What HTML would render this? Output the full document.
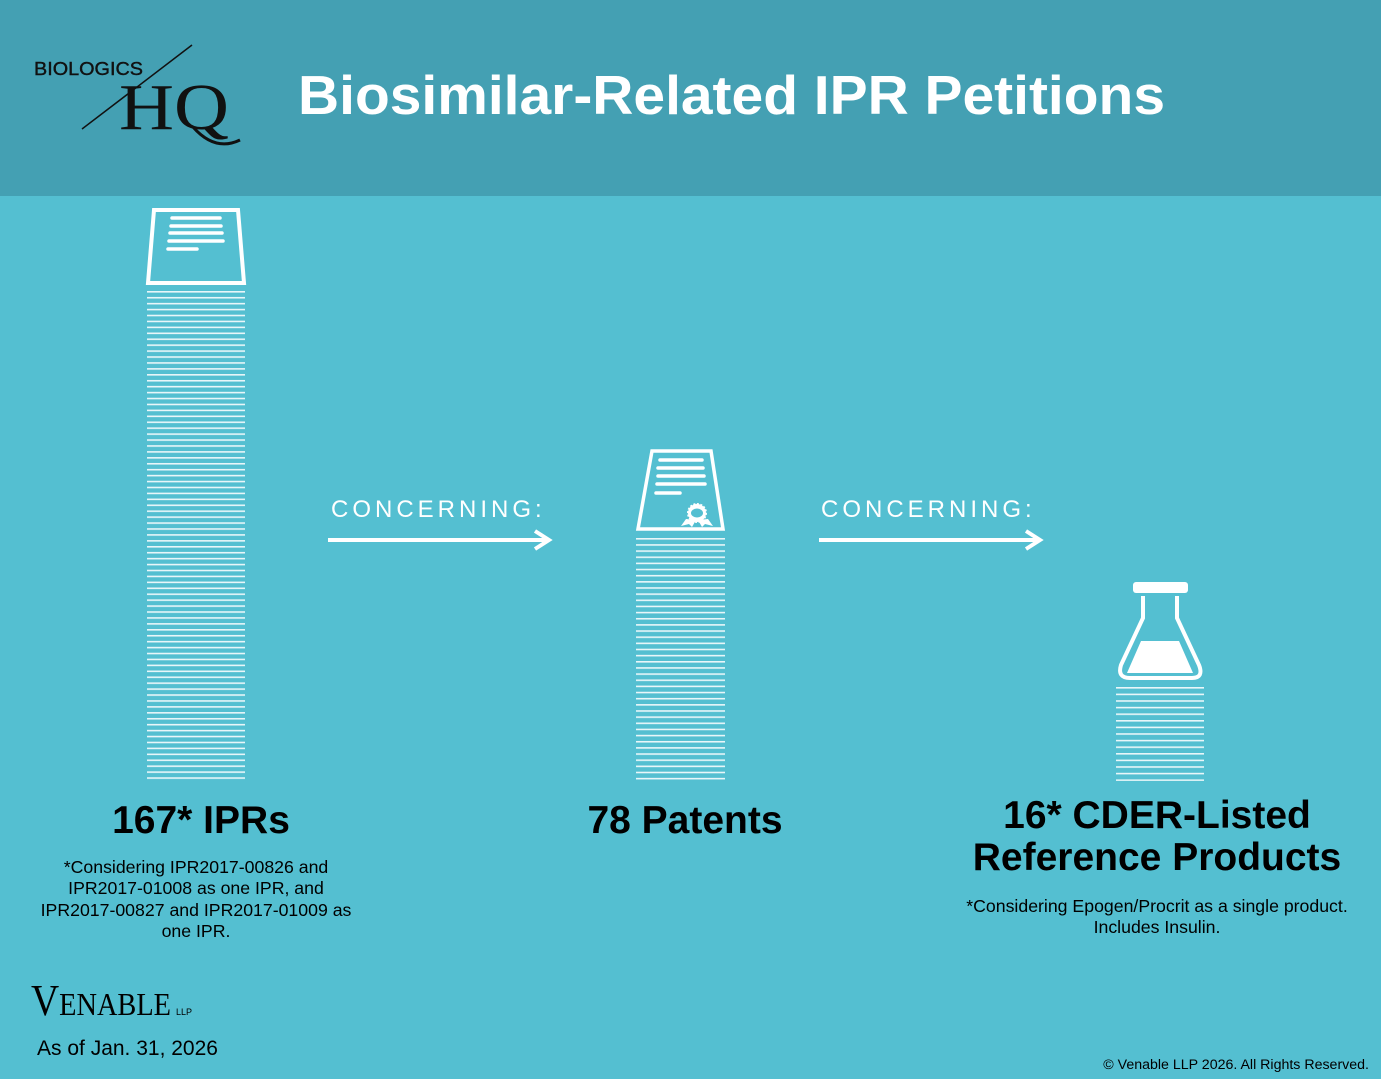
<!DOCTYPE html>
<html><head><meta charset="utf-8"><style>
html,body{margin:0;padding:0;}
body{width:1381px;height:1079px;overflow:hidden;background:#54bfd1;}
svg{display:block;font-family:"Liberation Sans",Arial,sans-serif;}
</style></head><body>
<svg width="1381" height="1079" viewBox="0 0 1381 1079" xmlns="http://www.w3.org/2000/svg">
<defs>
<pattern id="p1" x="0" y="291" width="10" height="5.93" patternUnits="userSpaceOnUse"><rect x="0" y="0" width="10" height="1.6" fill="#e8f6f9"/></pattern>
<pattern id="p2" x="0" y="538" width="10" height="6.15" patternUnits="userSpaceOnUse"><rect x="0" y="0" width="10" height="1.6" fill="#e8f6f9"/></pattern>
<pattern id="p3" x="0" y="687" width="10" height="6.6" patternUnits="userSpaceOnUse"><rect x="0" y="0" width="10" height="1.6" fill="#e8f6f9"/></pattern>
</defs>
<rect x="0" y="0" width="1381" height="196" fill="#44a0b3"/>
<rect x="0" y="196" width="1381" height="883" fill="#54bfd1"/>
<!-- logo -->
<text x="34" y="75" font-size="18" fill="#111" textLength="109" lengthAdjust="spacingAndGlyphs" stroke="#111" stroke-width="0.4">BIOLOGICS</text>
<line x1="82" y1="129" x2="192" y2="45" stroke="#111" stroke-width="1.5"/>
<text x="119" y="129" font-family="Liberation Serif,serif" font-size="66" fill="#111" textLength="110" lengthAdjust="spacingAndGlyphs">HQ</text>
<path d="M193 127 Q215 152 240 140" stroke="#111" stroke-width="3" fill="none"/>
<text x="298" y="114" font-size="55" font-weight="bold" fill="#fff" textLength="867" lengthAdjust="spacingAndGlyphs">Biosimilar-Related IPR Petitions</text>
<!-- col1 -->
<path d="M154 210 L238 210 L244 283 L148 283 Z" fill="none" stroke="#fff" stroke-width="4"/>
<g stroke="#fff" stroke-width="3.5" stroke-linecap="round"><line x1="172" y1="218" x2="220" y2="218"/><line x1="171" y1="226" x2="221" y2="226"/><line x1="170" y1="233" x2="222" y2="233"/><line x1="169" y1="241" x2="223" y2="241"/><line x1="168" y1="249" x2="197" y2="249"/></g>
<rect x="147" y="291" width="98" height="490" fill="url(#p1)"/>
<!-- arrows -->
<text x="331" y="517" font-size="24" fill="#fff" letter-spacing="4">CONCERNING:</text>
<line x1="328" y1="540" x2="548" y2="540" stroke="#fff" stroke-width="4"/>
<path d="M535 531 L549 540 L535 549" fill="none" stroke="#fff" stroke-width="4"/>
<text x="821" y="517" font-size="24" fill="#fff" letter-spacing="4">CONCERNING:</text>
<line x1="819" y1="540" x2="1039" y2="540" stroke="#fff" stroke-width="4"/>
<path d="M1026 531 L1040 540 L1026 549" fill="none" stroke="#fff" stroke-width="4"/>
<!-- col2 -->
<path d="M652 451 L711 451 L723 529 L638 529 Z" fill="none" stroke="#fff" stroke-width="3.5"/>
<g stroke="#fff" stroke-width="3.5" stroke-linecap="round"><line x1="660" y1="460" x2="702" y2="460"/><line x1="658" y1="468" x2="703" y2="468"/><line x1="658" y1="476" x2="704" y2="476"/><line x1="657" y1="484" x2="705" y2="484"/><line x1="656" y1="493" x2="680" y2="493"/></g>
<path d="M686 519 L681 526 L689 524 L692 527 L696 520 Z M708 519 L713 526 L705 524 L702 527 L698 520 Z" fill="#fff"/>
<circle cx="697" cy="513" r="9" fill="#fff" stroke="#fff" stroke-width="2" stroke-dasharray="2 1.5"/>
<ellipse cx="697" cy="513" rx="6" ry="4.5" fill="#54bfd1"/>
<rect x="636" y="538" width="89" height="243" fill="url(#p2)"/>
<!-- col3 -->
<rect x="1133" y="582" width="55" height="11" rx="3" fill="#fff"/>
<path d="M1143 596 L1143 618 L1121 665 Q1117 678 1130 678 L1192 678 Q1204 678 1199 665 L1177 618 L1177 596" fill="none" stroke="#fff" stroke-width="4"/>
<path d="M1141 641 L1179 641 L1193 673 L1127 673 Z" fill="#fff"/>
<rect x="1116" y="687" width="88" height="94" fill="url(#p3)"/>
<!-- labels -->
<g fill="#000" text-anchor="middle">
<text x="201" y="833" font-size="39" font-weight="bold">167* IPRs</text>
<text x="196" y="873" font-size="17.7">*Considering IPR2017-00826 and</text>
<text x="196" y="894" font-size="17.7">IPR2017-01008 as one IPR, and</text>
<text x="196" y="916" font-size="17.7">IPR2017-00827 and IPR2017-01009 as</text>
<text x="196" y="937" font-size="17.7">one IPR.</text>
<text x="685" y="833" font-size="39" font-weight="bold">78 Patents</text>
<text x="1157" y="828" font-size="39" font-weight="bold">16* CDER-Listed</text>
<text x="1157" y="870" font-size="39" font-weight="bold">Reference Products</text>
<text x="1157" y="912" font-size="17.7">*Considering Epogen/Procrit as a single product.</text>
<text x="1157" y="933" font-size="17.7">Includes Insulin.</text>
</g>
<text x="31" y="1015" font-family="Liberation Serif,serif" font-size="44" fill="#000" textLength="140" lengthAdjust="spacingAndGlyphs">V<tspan font-size="32">ENABLE</tspan></text>
<text x="176" y="1015" font-size="9" fill="#000">LLP</text>
<text x="37" y="1055" font-size="21" fill="#000">As of Jan. 31, 2026</text>
<text x="1369" y="1069" font-size="14.2" fill="#000" text-anchor="end">© Venable LLP 2026. All Rights Reserved.</text>
</svg>
</body></html>
